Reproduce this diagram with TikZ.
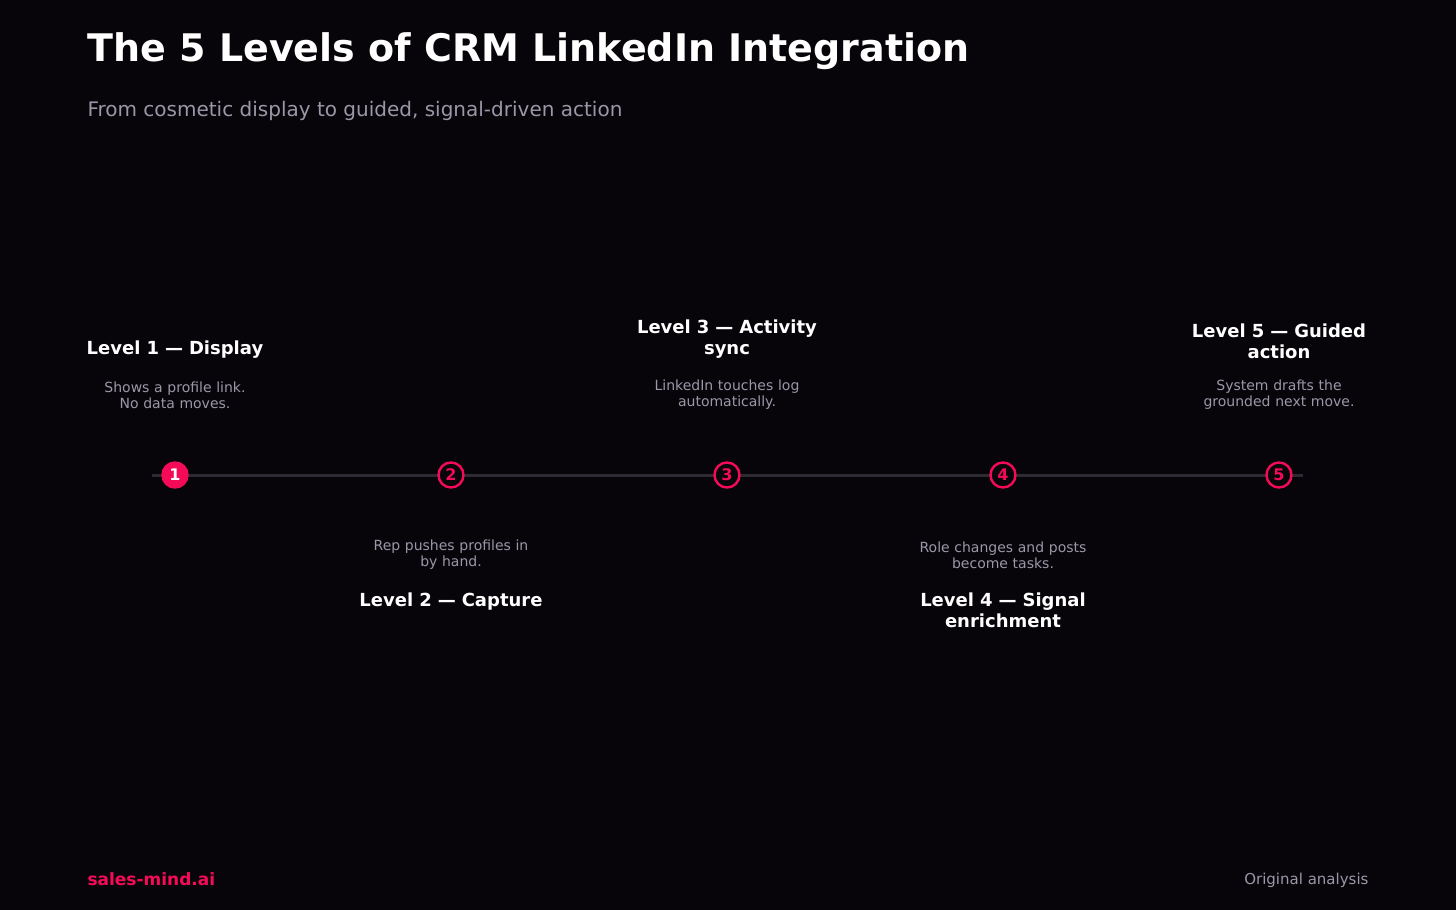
\documentclass[tikz,border=0pt]{standalone}
\usepackage{fontspec}
\setmainfont{DejaVu Sans}
\usetikzlibrary{positioning}
\definecolor{bgdark}{HTML}{08050A}
\definecolor{accent}{HTML}{F50A57}
\definecolor{muted}{HTML}{9A98A8}
\definecolor{track}{HTML}{2C2B33}
\tikzset{
  levstep/.style={circle, draw=accent, line width=2.4pt, fill=bgdark, minimum size=25pt, inner sep=0pt, text=accent, font=\fontsize{16}{16}\selectfont\bfseries},
  levtitle/.style={text=white, font=\fontsize{18}{21}\selectfont\bfseries, align=center, text width=230pt},
  levdesc/.style={text=muted, font=\fontsize{14}{16}\selectfont, align=center, text width=230pt},
}
\begin{document}
\begin{tikzpicture}[x=1pt,y=-1pt]
    % background
    \fill[bgdark] (0,0) rectangle (1456,910);
    \useasboundingbox (0,0) rectangle (1456,910);

    \node[anchor=west, text=white, font=\fontsize{38}{40}\selectfont\bfseries] (title) at (84,51) {The 5 Levels of CRM LinkedIn Integration};
    \node[anchor=west, text=muted, font=\fontsize{20}{24}\selectfont] (subtitle) at (84,111) {From cosmetic display to guided, signal-driven action};

    % the track
    \coordinate (start) at (152,475);
    \coordinate (end) at (1303,475);
    \draw[track, line width=3pt] (start) -- (end);

    \node[levstep, fill=accent, text=white] (s1) at (175,475) {1};
    \node[levstep] (s2) at (451,475) {2};
    \node[levstep] (s3) at (727,475) {3};
    \node[levstep] (s4) at (1003,475) {4};
    \node[levstep] (s5) at (1279,475) {5};

    % levels above the track
    \node[levdesc] (d1) at (175,395) {Shows a profile link.\\No data moves.};
    \node[levtitle, anchor=south] (t1) at (175,362) {Level 1 — Display};
    \node[levdesc] (d3) at (727,395) {LinkedIn touches log\\automatically.};
    \node[levtitle, anchor=south] (t3) at (727,362) {Level 3 — Activity\\sync};
    \node[levdesc] (d5) at (1279,395) {System drafts the\\grounded next move.};
    \node[levtitle, anchor=south] (t5) at (1279,362) {Level 5 — Guided\\action};

    % levels below the track
    \node[levdesc] (d2) at (451,555) {Rep pushes profiles in\\by hand.};
    \node[levtitle, anchor=north] (t2) at (451,589) {Level 2 — Capture};
    \node[levdesc] (d4) at (1003,555) {Role changes and posts\\become tasks.};
    \node[levtitle, anchor=north] (t4) at (1003,589) {Level 4 — Signal\\enrichment};

    % footer
    \node[anchor=west, text=accent, font=\fontsize{17}{20}\selectfont\bfseries] (brand) at (84,879) {sales-mind.ai};
    \node[anchor=east, text=muted, font=\fontsize{15}{18}\selectfont] (source) at (1372,880) {Original analysis};
\end{tikzpicture}
\end{document}
